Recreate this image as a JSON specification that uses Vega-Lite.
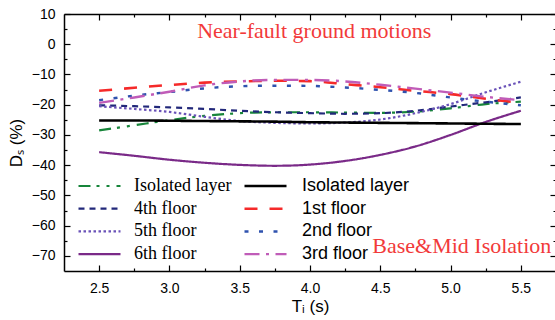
{
  "$schema": "https://vega.github.io/schema/vega-lite/v6.json",
  "width": 492,
  "height": 257,
  "autosize": "none",
  "padding": {"left": 64, "top": 14, "right": 0, "bottom": 49},
  "background": "white",
  "config": {
    "view": {"stroke": null},
    "axis": {
      "grid": false,
      "domainColor": "#000",
      "domainWidth": 1.5,
      "tickColor": "#000",
      "tickWidth": 1.2,
      "labelFont": "Liberation Sans",
      "labelFontSize": 14,
      "labelColor": "#000",
      "titleFont": "Liberation Sans",
      "titleFontSize": 17,
      "titleFontWeight": "normal",
      "titleColor": "#000"
    }
  },
  "datasets": {
    "curves": [
      {"g":"A","s":"Isolated layer","x":2.5,"y":-28.5},{"g":"A","s":"Isolated layer","x":2.75,"y":-26.8},{"g":"A","s":"Isolated layer","x":3.0,"y":-25.1},{"g":"A","s":"Isolated layer","x":3.25,"y":-23.7},{"g":"A","s":"Isolated layer","x":3.5,"y":-22.8},{"g":"A","s":"Isolated layer","x":3.75,"y":-22.5},{"g":"A","s":"Isolated layer","x":4.0,"y":-22.5},{"g":"A","s":"Isolated layer","x":4.25,"y":-22.6},{"g":"A","s":"Isolated layer","x":4.5,"y":-22.7},{"g":"A","s":"Isolated layer","x":4.75,"y":-22.3},{"g":"A","s":"Isolated layer","x":5.0,"y":-21.2},{"g":"A","s":"Isolated layer","x":5.25,"y":-19.8},{"g":"A","s":"Isolated layer","x":5.5,"y":-19.0},
      {"g":"A","s":"4th floor","x":2.5,"y":-20.2},{"g":"A","s":"4th floor","x":2.75,"y":-20.5},{"g":"A","s":"4th floor","x":3.0,"y":-20.9},{"g":"A","s":"4th floor","x":3.25,"y":-21.4},{"g":"A","s":"4th floor","x":3.5,"y":-22.0},{"g":"A","s":"4th floor","x":3.75,"y":-22.5},{"g":"A","s":"4th floor","x":4.0,"y":-22.8},{"g":"A","s":"4th floor","x":4.25,"y":-23.0},{"g":"A","s":"4th floor","x":4.5,"y":-22.8},{"g":"A","s":"4th floor","x":4.75,"y":-22.0},{"g":"A","s":"4th floor","x":5.0,"y":-20.6},{"g":"A","s":"4th floor","x":5.25,"y":-19.2},{"g":"A","s":"4th floor","x":5.5,"y":-17.6},
      {"g":"A","s":"5th floor","x":2.5,"y":-20.5},{"g":"A","s":"5th floor","x":2.75,"y":-21.4},{"g":"A","s":"5th floor","x":3.0,"y":-22.4},{"g":"A","s":"5th floor","x":3.25,"y":-24.0},{"g":"A","s":"5th floor","x":3.5,"y":-25.4},{"g":"A","s":"5th floor","x":3.75,"y":-26.0},{"g":"A","s":"5th floor","x":4.0,"y":-26.2},{"g":"A","s":"5th floor","x":4.25,"y":-25.9},{"g":"A","s":"5th floor","x":4.5,"y":-24.9},{"g":"A","s":"5th floor","x":4.75,"y":-22.8},{"g":"A","s":"5th floor","x":5.0,"y":-19.8},{"g":"A","s":"5th floor","x":5.25,"y":-15.9},{"g":"A","s":"5th floor","x":5.5,"y":-12.4},
      {"g":"A","s":"6th floor","x":2.5,"y":-35.7},{"g":"A","s":"6th floor","x":2.75,"y":-36.9},{"g":"A","s":"6th floor","x":3.0,"y":-38.2},{"g":"A","s":"6th floor","x":3.25,"y":-39.2},{"g":"A","s":"6th floor","x":3.5,"y":-39.9},{"g":"A","s":"6th floor","x":3.75,"y":-40.2},{"g":"A","s":"6th floor","x":4.0,"y":-39.8},{"g":"A","s":"6th floor","x":4.25,"y":-38.6},{"g":"A","s":"6th floor","x":4.5,"y":-36.6},{"g":"A","s":"6th floor","x":4.75,"y":-33.8},{"g":"A","s":"6th floor","x":5.0,"y":-30.0},{"g":"A","s":"6th floor","x":5.25,"y":-25.7},{"g":"A","s":"6th floor","x":5.5,"y":-22.0},
      {"g":"B","s":"Isolated layer","x":2.5,"y":-25.2},{"g":"B","s":"Isolated layer","x":2.75,"y":-25.2},{"g":"B","s":"Isolated layer","x":3.0,"y":-25.3},{"g":"B","s":"Isolated layer","x":3.25,"y":-25.4},{"g":"B","s":"Isolated layer","x":3.5,"y":-25.5},{"g":"B","s":"Isolated layer","x":3.75,"y":-25.6},{"g":"B","s":"Isolated layer","x":4.0,"y":-25.8},{"g":"B","s":"Isolated layer","x":4.25,"y":-25.9},{"g":"B","s":"Isolated layer","x":4.5,"y":-26.0},{"g":"B","s":"Isolated layer","x":4.75,"y":-26.1},{"g":"B","s":"Isolated layer","x":5.0,"y":-26.2},{"g":"B","s":"Isolated layer","x":5.25,"y":-26.3},{"g":"B","s":"Isolated layer","x":5.5,"y":-26.4},
      {"g":"B","s":"1st floor","x":2.5,"y":-15.4},{"g":"B","s":"1st floor","x":2.75,"y":-14.4},{"g":"B","s":"1st floor","x":3.0,"y":-13.5},{"g":"B","s":"1st floor","x":3.25,"y":-12.7},{"g":"B","s":"1st floor","x":3.5,"y":-12.3},{"g":"B","s":"1st floor","x":3.75,"y":-12.1},{"g":"B","s":"1st floor","x":4.0,"y":-12.2},{"g":"B","s":"1st floor","x":4.25,"y":-13.2},{"g":"B","s":"1st floor","x":4.5,"y":-14.2},{"g":"B","s":"1st floor","x":4.75,"y":-15.4},{"g":"B","s":"1st floor","x":5.0,"y":-16.5},{"g":"B","s":"1st floor","x":5.25,"y":-18.0},{"g":"B","s":"1st floor","x":5.5,"y":-19.4},
      {"g":"B","s":"2nd floor","x":2.5,"y":-18.5},{"g":"B","s":"2nd floor","x":2.75,"y":-17.0},{"g":"B","s":"2nd floor","x":3.0,"y":-15.8},{"g":"B","s":"2nd floor","x":3.25,"y":-14.6},{"g":"B","s":"2nd floor","x":3.5,"y":-13.9},{"g":"B","s":"2nd floor","x":3.75,"y":-13.7},{"g":"B","s":"2nd floor","x":4.0,"y":-13.8},{"g":"B","s":"2nd floor","x":4.25,"y":-14.3},{"g":"B","s":"2nd floor","x":4.5,"y":-15.1},{"g":"B","s":"2nd floor","x":4.75,"y":-16.1},{"g":"B","s":"2nd floor","x":5.0,"y":-17.6},{"g":"B","s":"2nd floor","x":5.25,"y":-19.0},{"g":"B","s":"2nd floor","x":5.5,"y":-20.2},
      {"g":"B","s":"3rd floor","x":2.5,"y":-19.4},{"g":"B","s":"3rd floor","x":2.75,"y":-17.6},{"g":"B","s":"3rd floor","x":3.0,"y":-15.7},{"g":"B","s":"3rd floor","x":3.25,"y":-13.6},{"g":"B","s":"3rd floor","x":3.5,"y":-12.3},{"g":"B","s":"3rd floor","x":3.75,"y":-11.8},{"g":"B","s":"3rd floor","x":4.0,"y":-11.8},{"g":"B","s":"3rd floor","x":4.25,"y":-12.3},{"g":"B","s":"3rd floor","x":4.5,"y":-13.4},{"g":"B","s":"3rd floor","x":4.75,"y":-14.7},{"g":"B","s":"3rd floor","x":5.0,"y":-16.0},{"g":"B","s":"3rd floor","x":5.25,"y":-17.4},{"g":"B","s":"3rd floor","x":5.5,"y":-18.5}
    ],
    "notes": [
      {"x": 4.03, "y": 4.4, "t": "Near-fault ground motions"},
      {"x": 5.08, "y": -66.8, "t": "Base&Mid Isolation"}
    ]
  },
  "layer": [
    {
      "data": {"name": "curves"},
      "transform": [{"filter": "datum.g === 'A'"}],
      "mark": {"type": "line", "interpolate": "monotone"},
      "encoding": {
        "x": {
          "field": "x", "type": "quantitative",
          "scale": {"domain": [2.25, 5.75], "nice": false, "zero": false},
          "axis": {
            "orient": "bottom",
            "values": [2.5, 2.75, 3.0, 3.25, 3.5, 3.75, 4.0, 4.25, 4.5, 4.75, 5.0, 5.25, 5.5],
            "labelExpr": "round(datum.value*4) % 2 === 0 ? format(datum.value, '.1f') : ''",
            "tickSize": {"condition": {"test": "round(datum.value*4) % 2 === 0", "value": -6}, "value": -3},
            "labelPadding": 16,
            "title": "Tᵢ (s)",
            "titlePadding": 3
          }
        },
        "y": {
          "field": "y", "type": "quantitative",
          "scale": {"domain": [-75, 10], "nice": false, "zero": false},
          "axis": {
            "orient": "left",
            "values": [-70, -65, -60, -55, -50, -45, -40, -35, -30, -25, -20, -15, -10, -5, 0, 5, 10],
            "labelExpr": "datum.value % 10 === 0 ? datum.label : ''",
            "tickSize": {"condition": {"test": "datum.value % 10 === 0", "value": -6}, "value": -3},
            "labelPadding": 15,
            "title": "Dₛ (%)",
            "titlePadding": 6
          }
        },
        "color": {
          "field": "s", "type": "nominal",
          "scale": {"domain": ["Isolated layer", "4th floor", "5th floor", "6th floor"], "range": ["#17853a", "#22287a", "#6a52b8", "#7a2a88"]},
          "legend": {"orient": "none", "legendX": 13, "legendY": 163, "title": null, "symbolType": "stroke", "symbolSize": 1764, "clipHeight": 18, "rowPadding": 4.7, "labelFont": "Liberation Serif", "labelFontSize": 18, "labelColor": "#000", "labelOffset": 12, "symbolStrokeWidth": 2.2, "padding": 0}
        },
        "strokeDash": {
          "field": "s", "type": "nominal",
          "scale": {"domain": ["Isolated layer", "4th floor", "5th floor", "6th floor"], "range": [[12, 6, 3, 7, 3, 7], [6, 5], [2.5, 2.5], [1, 0]]},
          "legend": {"orient": "none", "legendX": 13, "legendY": 163, "title": null, "symbolType": "stroke", "symbolSize": 1764, "clipHeight": 18, "rowPadding": 4.7, "labelFont": "Liberation Serif", "labelFontSize": 18, "labelColor": "#000", "labelOffset": 12, "symbolStrokeWidth": 2.2, "padding": 0}
        },
        "strokeWidth": {
          "field": "s", "type": "nominal",
          "scale": {"domain": ["Isolated layer", "4th floor", "5th floor", "6th floor"], "range": [2.2, 2.2, 2, 2.3]},
          "legend": null
        }
      }
    },
    {
      "data": {"name": "curves"},
      "transform": [{"filter": "datum.g === 'B'"}],
      "mark": {"type": "line", "interpolate": "monotone"},
      "encoding": {
        "x": {
          "field": "x", "type": "quantitative",
          "scale": {"domain": [2.25, 5.75], "nice": false, "zero": false},
          "axis": {
            "orient": "top",
            "values": [2.5, 2.75, 3.0, 3.25, 3.5, 3.75, 4.0, 4.25, 4.5, 4.75, 5.0, 5.25, 5.5],
            "labels": false,
            "tickSize": {"condition": {"test": "round(datum.value*4) % 2 === 0", "value": -6}, "value": -3},
            "title": null
          }
        },
        "y": {
          "field": "y", "type": "quantitative",
          "scale": {"domain": [-75, 10], "nice": false, "zero": false},
          "axis": {
            "orient": "right",
            "values": [-70, -65, -60, -55, -50, -45, -40, -35, -30, -25, -20, -15, -10, -5, 0, 5, 10],
            "labels": false,
            "tickSize": {"condition": {"test": "datum.value % 10 === 0", "value": -6}, "value": -3},
            "title": null
          }
        },
        "color": {
          "field": "s", "type": "nominal",
          "scale": {"domain": ["Isolated layer", "1st floor", "2nd floor", "3rd floor"], "range": ["#000000", "#f52a2a", "#2f52ae", "#c05cb8"]},
          "legend": {"orient": "none", "legendX": 179, "legendY": 163, "title": null, "symbolType": "stroke", "symbolSize": 1764, "clipHeight": 18, "rowPadding": 4.7, "labelFont": "Liberation Sans", "labelFontSize": 18, "labelColor": "#000", "labelOffset": 14, "symbolStrokeWidth": 2.4, "padding": 0}
        },
        "strokeDash": {
          "field": "s", "type": "nominal",
          "scale": {"domain": ["Isolated layer", "1st floor", "2nd floor", "3rd floor"], "range": [[1, 0], [13, 12], [4, 10.5], [15, 6.5, 3, 6.5]]},
          "legend": {"orient": "none", "legendX": 179, "legendY": 163, "title": null, "symbolType": "stroke", "symbolSize": 1764, "clipHeight": 18, "rowPadding": 4.7, "labelFont": "Liberation Sans", "labelFontSize": 18, "labelColor": "#000", "labelOffset": 14, "symbolStrokeWidth": 2.4, "padding": 0}
        },
        "strokeWidth": {
          "field": "s", "type": "nominal",
          "scale": {"domain": ["Isolated layer", "1st floor", "2nd floor", "3rd floor"], "range": [2.6, 2.4, 2.6, 2.4]},
          "legend": null
        }
      }
    },
    {
      "data": {"name": "notes"},
      "mark": {"type": "text", "font": "Liberation Serif", "fontSize": 22, "color": "#f23a3a", "align": "center", "baseline": "middle"},
      "encoding": {
        "x": {"field": "x", "type": "quantitative", "scale": {"domain": [2.25, 5.75], "nice": false, "zero": false}, "axis": null},
        "y": {"field": "y", "type": "quantitative", "scale": {"domain": [-75, 10], "nice": false, "zero": false}, "axis": null},
        "text": {"field": "t"}
      }
    }
  ],
  "resolve": {
    "scale": {"color": "independent", "strokeDash": "independent", "strokeWidth": "independent"},
    "axis": {"x": "independent", "y": "independent"}
  }
}
